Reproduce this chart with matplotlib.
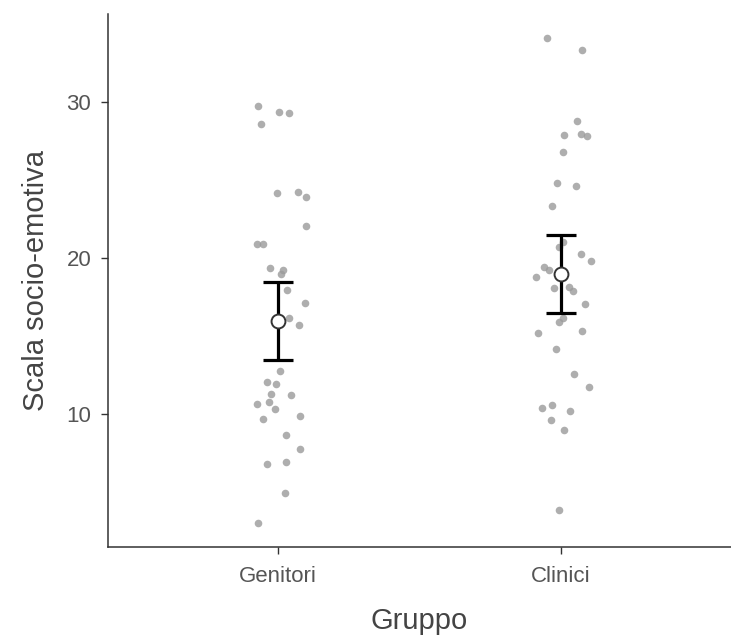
import numpy as np
import matplotlib.pyplot as plt

plt.rcParams['font.family'] = ['Liberation Sans', 'DejaVu Sans']

groups = ['Genitori', 'Clinici']

# punteggi, con lo spostamento orizzontale (jitter) di ciascun punto
gen_vals = [29.76, 29.34, 29.29, 28.57, 24.19, 24.23, 23.91, 22.05, 20.92, 20.92,
            19.36, 19.25, 18.96, 17.93, 17.13, 16.17, 15.72, 12.74, 12.07, 11.94,
            11.28, 11.24, 10.62, 10.75, 10.30, 9.66, 9.87, 8.65, 7.76, 6.78,
            6.92, 4.94, 3.01]
gen_jit = [-0.070, 0.004, 0.040, -0.061, -0.004, 0.070, 0.100, 0.100, -0.073, -0.054,
           -0.029, 0.019, 0.011, 0.031, 0.095, 0.039, 0.075, 0.008, -0.040, -0.008,
           -0.025, 0.046, -0.074, -0.032, -0.011, -0.051, 0.078, 0.029, 0.078, -0.040,
           0.027, 0.024, -0.070]

cli_vals = [34.10, 33.35, 28.78, 27.88, 27.97, 27.80, 26.81, 24.81, 24.63, 23.31,
            20.72, 21.01, 20.24, 19.81, 19.40, 19.23, 18.78, 18.06, 18.12, 17.87,
            17.03, 16.13, 15.88, 15.21, 15.30, 14.15, 12.56, 11.75, 10.37, 10.60,
            10.17, 9.62, 8.99, 3.87]
cli_jit = [-0.049, 0.073, 0.057, 0.012, 0.070, 0.093, 0.007, -0.015, 0.052, -0.033,
           -0.007, 0.008, 0.071, 0.104, -0.059, -0.042, -0.089, -0.025, 0.027, 0.041,
           0.086, 0.008, -0.006, -0.081, 0.075, -0.017, 0.045, 0.100, -0.066, -0.032,
           0.031, -0.034, 0.010, -0.007]

means = [15.95, 18.95]
ci_low = [13.45, 16.45]
ci_high = [18.45, 21.45]

fig = plt.figure(figsize=(7.31, 6.41), dpi=100)
ax = fig.add_axes([108/731, 94/641, 623/731, 533/641])

pos = np.arange(1, len(groups) + 1)
for p, vals, jit in zip(pos, [gen_vals, cli_vals], [gen_jit, cli_jit]):
    ax.scatter(p + np.array(jit), vals, s=30, color='#9a9a9a', alpha=0.8,
               linewidths=0, zorder=2)

means = np.array(means)
err = [means - np.array(ci_low), np.array(ci_high) - means]
ax.errorbar(pos, means, yerr=err, fmt='none', ecolor='black', elinewidth=2.3,
            capsize=10.5, capthick=2.3, zorder=3)
ax.plot(pos, means, 'o', ms=10, mfc='white', mec='#333333', mew=1.4, zorder=4)

ax.set_xlim(0.4, 2.6)
ax.set_ylim(1.47, 35.64)
ax.set_xticks(pos)
ax.set_xticklabels(groups)
ax.set_yticks([10, 20, 30])

for s in ['top', 'right']:
    ax.spines[s].set_visible(False)
for s in ['left', 'bottom']:
    ax.spines[s].set_color('#333333')
    ax.spines[s].set_linewidth(1.1)

ax.tick_params(axis='both', length=5, width=1.0, color='#333333',
               labelsize=16, labelcolor='#555555', pad=7)
ax.tick_params(axis='x', pad=9)
ax.set_xlabel('Gruppo', fontsize=21, color='#444444', labelpad=14)
ax.set_ylabel('Scala socio-emotiva', fontsize=21, color='#444444', labelpad=12)

plt.savefig('out.png', dpi=100)
